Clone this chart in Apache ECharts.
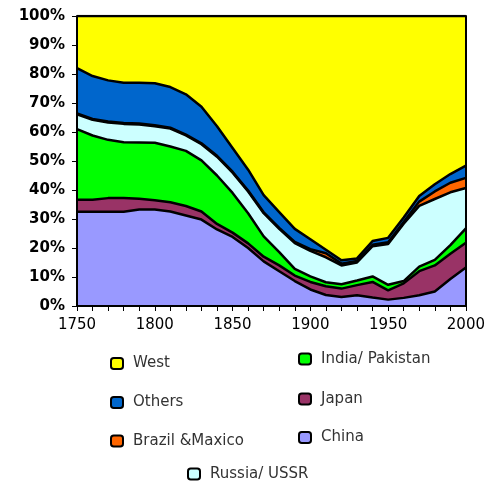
<!DOCTYPE html>
<html>
<head>
<meta charset="utf-8">
<script src="https://cdn.jsdelivr.net/npm/echarts@6/dist/echarts.min.js"></script>
<style>html,body{margin:0;padding:0;background:#fff;}#c{width:488px;height:485px;}</style>
</head>
<body>
<div id="c"></div>
<script>
const years = [1750,1760,1770,1780,1790,1800,1810,1820,1830,1840,1850,1860,1870,1880,1890,1900,1910,1920,1930,1940,1950,1960,1970,1980,1990,2000];
const china  = [32.5,32.5,32.5,32.5,33.3,33.3,32.6,31.2,29.8,26.4,23.8,20.0,15.4,12.0,8.6,5.7,3.8,3.1,3.7,2.9,2.2,2.8,3.7,5.0,9.3,13.3];
const japan  = [4.1,4.1,4.7,4.7,3.7,3.2,3.2,3.3,2.8,1.9,1.5,1.6,1.6,2.0,1.9,2.6,3.0,2.9,3.5,5.4,3.2,5.0,8.3,9.0,8.7,8.5];
const india  = [24.4,22.2,20.1,19.3,19.4,19.8,19.2,19.0,17.6,16.7,13.7,10.4,7.0,4.6,2.3,1.9,1.4,1.5,1.6,1.9,1.9,0.8,1.6,1.9,3.0,5.0];
const russia = [5.1,5.4,6.0,6.3,6.2,5.7,6.2,5.3,5.6,6.5,7.0,7.5,8.0,8.0,8.9,8.8,8.6,6.5,6.2,10.4,14.1,19.8,20.9,21.0,18.2,13.9];
const brazil = [0.3,0.3,0.3,0.3,0.3,0.3,0.3,0.3,0.3,0.3,0.3,0.3,0.3,0.3,0.4,0.6,1.4,0.6,0.5,0.5,0.6,0.6,1.5,2.6,3.3,3.5];
const others = [15.6,14.8,14.2,13.9,14.1,14.5,14.0,13.9,12.6,10.2,8.2,7.2,5.9,5.5,4.5,3.4,1.2,1.2,0.9,1.3,1.5,1.5,1.9,2.5,3.0,4.2];
const west   = [18.0,20.7,22.2,23.0,23.0,23.2,24.5,27.0,31.3,38.0,45.5,53.0,61.8,67.6,73.4,77.0,80.6,84.2,83.6,77.6,76.5,69.5,62.1,58.0,54.5,51.6];
const yTicks = [0,10,20,30,40,50,60,70,80,90,100];

const seriesDefs = [
  {name:'China', data:china, color:'#9999FF'},
  {name:'Japan', data:japan, color:'#993366'},
  {name:'India/ Pakistan', data:india, color:'#00FF00'},
  {name:'Russia/ USSR', data:russia, color:'#CCFFFF'},
  {name:'Brazil &Maxico', data:brazil, color:'#FF6600'},
  {name:'Others', data:others, color:'#0066CC'},
  {name:'West', data:west, color:'#FFFF00'}
];

const series = seriesDefs.map(s => ({
  name: s.name,
  type: 'line',
  stack: 'total',
  symbol: 'none',
  showSymbol: false,
  data: s.data.slice(),
  itemStyle: {color: s.color},
  lineStyle: {color: '#000', width: 2.5},
  areaStyle: {color: s.color, opacity: 1}
}));

const legendFont = {fontFamily:'DejaVu Sans', fontSize:15, color:'#333', lineHeight:18, padding:[0,0,0,5]};
function lg(name, left, top){
  return {data:[name], left:left, top:top, icon:'roundRect', itemWidth:12, itemHeight:11,
    itemStyle:{borderColor:'#000', borderWidth:2}, textStyle:legendFont, selectedMode:false, padding:0};
}

const chart = echarts.init(document.getElementById('c'), null, {renderer:'canvas'});
chart.setOption({
  animation: false,
  backgroundColor: '#fff',
  grid: {left:77, right:20, top:16, bottom:179},
  legend: [
    lg('West',110,354.5),
    lg('India/ Pakistan',298,350),
    lg('Others',110,393.5),
    lg('Japan',298,390),
    lg('Brazil &Maxico',110,432),
    lg('China',298,428.5),
    lg('Russia/ USSR',187,465)
  ],
  xAxis: {
    type:'category', data: years.map(String), boundaryGap:false, z:10,
    axisLine:{show:true, lineStyle:{color:'#000', width:2}},
    axisTick:{show:true, length:5, interval:0, lineStyle:{color:'#000', width:1}},
    splitLine:{show:false},
    axisLabel:{color:'#000', fontFamily:'DejaVu Sans', fontSize:15, margin:12, interval:4}
  },
  yAxis: [{
    type:'value', min:yTicks[0], max:yTicks[yTicks.length-1], interval:10, z:10,
    axisLine:{show:true, lineStyle:{color:'#000', width:2}},
    axisTick:{show:true, length:5, lineStyle:{color:'#000', width:1}},
    splitLine:{show:false},
    axisLabel:{color:'#000', fontFamily:'DejaVu Sans', fontWeight:'bold', fontSize:15, margin:12, formatter:'{value}%'}
  },{
    type:'value', min:0, max:100, position:'right', z:10,
    axisLine:{show:true, lineStyle:{color:'#000', width:2}},
    axisTick:{show:false}, axisLabel:{show:false}, splitLine:{show:false}
  }],
  series: series
});
</script>
</body>
</html>
